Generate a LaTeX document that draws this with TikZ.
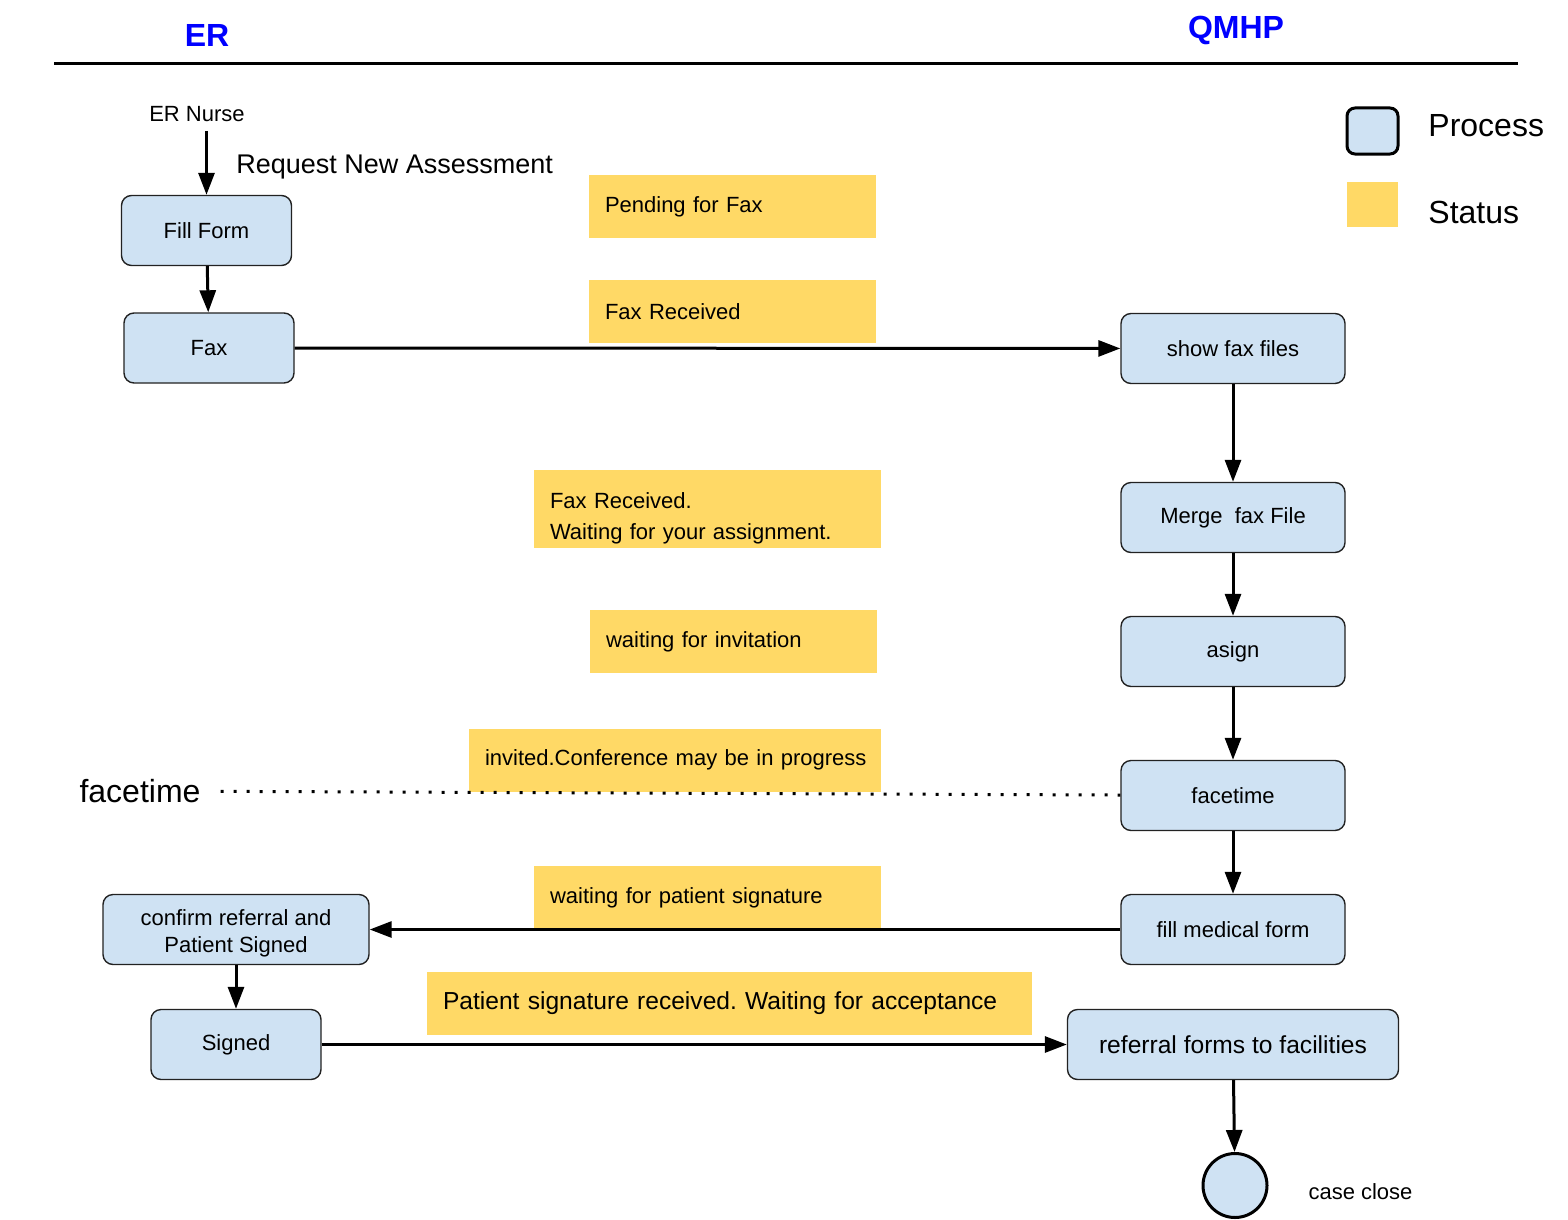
\documentclass[tikz,border=0pt]{standalone}
\usepackage{fontspec}
\setmainfont{Liberation Sans}
\frenchspacing
\usetikzlibrary{arrows.meta,positioning}
\definecolor{procblue}{HTML}{CFE2F3}
\definecolor{statusyellow}{HTML}{FFD966}
\definecolor{boxline}{HTML}{222222}
\newcommand{\fsz}[1]{\fontsize{#1}{#1}\selectfont}

\begin{document}
\begin{tikzpicture}[x=0.5pt,y=-0.5pt,node distance=2cm,on grid,
   >={Triangle[length=11pt,width=8pt]},
   proc/.style={rectangle, rounded corners=5pt, draw=boxline, line width=0.7pt, fill=procblue,
                minimum width=85pt, minimum height=35pt, font=\fsz{11}, align=center},
   statusbox/.style={rectangle, fill=statusyellow, minimum height=31.5pt, inner xsep=8pt,
                inner ysep=0pt, align=left, font=\fsz{11}},
   flow/.style={line width=1.5pt},
   dotline/.style={line width=1.5pt, dash pattern=on 1.5pt off 5pt},
   lanetitle/.style={font=\fsz{16}\bfseries, text=blue}]
   \useasboundingbox (0,0) rectangle (1568,1220);

   \node[lanetitle] (er)   at (207,35) {ER};
   \node[lanetitle] (qmhp) at (1236,30) {QMHP};
   \draw[line width=1.3pt] (54,63.5) -- (1518,63.5);

   \node[proc, line width=1.5pt, draw=black, rounded corners=4pt, minimum width=25.5pt, minimum height=23pt] (lgproc) at (1372.5,131) {};
   \node[fill=statusyellow, minimum width=25.5pt, minimum height=22.5pt] (lgstat) at (1372.5,204.5) {};
   \node[anchor=west, inner sep=0pt, font=\fsz{16}] (lgproct) at (1428,126) {Process};
   \node[anchor=west, inner sep=0pt, font=\fsz{16}] (lgstatt) at (1428,212) {Status};

   \node[statusbox, text width=127.5pt] (pend)  at (732.5,206.5) {Pending for Fax};
   \node[statusbox, text width=127.5pt] (frecv) at (732.5,311.5) {Fax Received};
   \node[statusbox, text width=157.5pt, minimum height=39pt, font=\fontsize{11}{15.5}\selectfont] (fwait) at (707.5,509)
      {\rule{0pt}{17pt}Fax Received.\\Waiting for your assignment.};
   \node[statusbox, text width=127.5pt] (winv)  at (733.5,641.5) {waiting for invitation};
   \node[statusbox, text width=190pt]   (invit) at (675,760) {\mbox{invited.Conference may be in progress}};
   \node[statusbox, text width=157.5pt, minimum height=32pt] (wpat) at (707.5,898) {waiting for patient signature};
   \node[statusbox, text width=286.5pt, font=\fsz{12.3}] (psig) at (729.5,1003.5)
      {\mbox{Patient signature received. Waiting for acceptance}};

   \node[font=\fsz{11}] (nurse) at (197,114.5) {ER Nurse};
   \node[anchor=base west, inner sep=0pt, font=\fsz{13.5}] (req) at (236,173) {Request New Assessment};

   \node[proc] (fill) at (206.5,230.5) {Fill Form};
   \node[proc] (fax) [below right=58.75pt and 1.25pt of fill] {Fax};
   \coordinate[above=32pt of fill.north] (nin);

   \node[proc, minimum width=112pt] (sfax)  at (1233,348.5) {show fax files};
   \node[proc, minimum width=112pt] (merge) [below=84.5pt of sfax]  {Merge\ \ fax File};
   \node[proc, minimum width=112pt] (asign) [below=67pt of merge]   {asign};
   \node[proc, minimum width=112pt] (ft)    [below=72pt of asign]   {facetime};
   \node[proc, minimum width=112pt] (fmed)  [below=67pt of ft]      {fill medical form};
   \node[proc, minimum width=165.5pt, font=\fsz{12.3}] (refer) [below=57.5pt of fmed] {referral forms to facilities};
   \node[circle, draw=black, line width=1.5pt, fill=procblue, minimum size=32pt, inner sep=0pt] (close)
      [below right=70.5pt and 1pt of refer] {};
   \node[font=\fsz{11}] (closelbl) at (1360.5,1192) {case close};

   \node[proc, minimum width=133pt, font=\fontsize{11}{13.5}\selectfont] (conf) [left=498.5pt of fmed]
      {\rule{0pt}{12pt}confirm referral and\\Patient Signed};
   \node[proc] (signed) [below=57.5pt of conf] {Signed};

   \node[font=\fsz{16}] (ftlbl) at (140,791) {facetime};

   \path[->, flow]
    (nin)    edge (fill)
    (fill)   edge (fax)
    (fax)    edge (sfax)
    (sfax)   edge (merge)
    (merge)  edge (asign)
    (asign)  edge (ft)
    (ft)     edge (fmed)
    (fmed)   edge (conf)
    (conf)   edge (signed)
    (signed) edge (refer)
    (refer)  edge (close);
   \path (ftlbl) edge[dotline, shorten <=6.5pt] (ft);
\end{tikzpicture}
\end{document}
